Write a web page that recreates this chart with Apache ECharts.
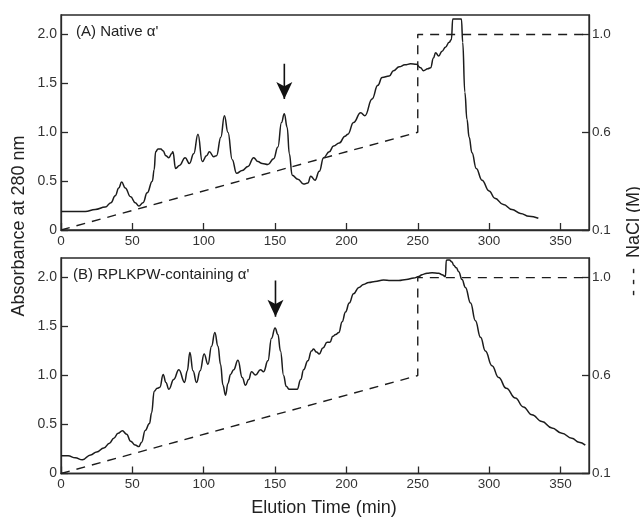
<!DOCTYPE html>
<html>
<head>
<meta charset="utf-8">
<script src="https://cdn.jsdelivr.net/npm/echarts@6/dist/echarts.min.js"></script>
<style>
html,body{margin:0;padding:0;background:#fff;}
#chart{width:640px;height:519px;}
</style>
</head>
<body>
<div id="chart"></div>
<script>
// ---------- DATA ----------
const xTicks = [0, 50, 100, 150, 200, 250, 300, 350];
const absTicks = [0, 0.5, 1.0, 1.5, 2.0];
const naclTickLabels = ['0.1', '0.6', '1.0'];   // right-axis labels at axis levels 0, 1, 2

// Panel A: Native alpha' (elution time min, absorbance 280 nm)
const curveA = [
  [0,0.19],[8,0.19],[17,0.19],[24,0.21],[31,0.235],[35,0.28],[38,0.35],[40.5,0.43],[42.5,0.49],
  [45,0.43],[48.8,0.34],[52,0.28],[54.6,0.245],[57.5,0.28],[60.4,0.38],[64,0.50],[65.3,0.62],
  [66.3,0.80],[68,0.83],[70,0.83],[71.5,0.81],[73.5,0.76],[75.6,0.74],[77.5,0.78],[78.4,0.80],
  [80.3,0.63],[83,0.66],[87,0.74],[90,0.68],[93,0.78],[96,0.98],[99,0.70],[102,0.76],[104,0.80],
  [107,0.75],[109,0.76],[112,0.95],[114.5,1.17],[117,1.00],[120,0.72],[123,0.58],[127,0.61],
  [131,0.65],[135,0.74],[138,0.70],[141,0.68],[145,0.67],[149,0.73],[152,0.85],[154.5,1.10],
  [156.5,1.19],[158.5,1.05],[160,0.78],[162,0.56],[166,0.52],[170,0.47],[173,0.48],[175,0.55],
  [178,0.51],[181,0.60],[184,0.74],[188,0.80],[191,0.86],[195,0.89],[199,0.96],[201,0.98],
  [205,1.10],[210,1.20],[213,1.17],[218,1.34],[222,1.48],[225,1.56],[230,1.575],[233,1.63],
  [237,1.67],[241,1.69],[245,1.70],[249,1.695],[252,1.66],[254,1.63],[257,1.65],[259,1.66],
  [261,1.76],[262.5,1.815],[264.7,1.78],[267,1.83],[269.4,1.87],[272,1.92],[273.6,1.95],
  [274.5,2.16],[280.6,2.16],[281.5,1.92],[283,1.41],[284.5,1.13],[286,0.95],[288,0.79],
  [291,0.63],[295,0.51],[300,0.40],[304,0.325],[310,0.26],[316,0.21],[322,0.17],[328,0.14],[334.5,0.12]
];

// Panel B: RPLKPW-containing alpha'
const curveB = [
  [0,0.18],[5,0.18],[10,0.16],[15,0.14],[20.8,0.19],[25,0.22],[30,0.26],[34,0.31],[37,0.36],
  [40,0.41],[43,0.437],[46,0.40],[48.8,0.33],[52,0.29],[54.6,0.275],[56.5,0.32],[59,0.44],
  [62,0.51],[63.5,0.62],[65.3,0.84],[67.4,0.87],[69.3,0.88],[71.6,1.01],[73.5,0.93],[75.6,0.86],
  [79,0.96],[82.6,1.06],[86.6,0.93],[88.5,1.05],[90.3,1.235],[92.5,1.05],[95,0.93],[97.5,1.05],
  [100.3,1.22],[103,1.115],[105.5,1.30],[107.8,1.44],[110,1.30],[111.8,1.115],[113.5,0.90],
  [115.3,0.80],[117,0.92],[118.8,1.01],[121,1.06],[124,1.156],[127,0.98],[129.3,0.90],
  [131.5,0.96],[133.5,1.04],[136.3,1.005],[139.8,1.06],[142,1.04],[145,1.15],[147.5,1.38],
  [150,1.485],[152,1.42],[153.8,1.25],[156,1.00],[157.8,0.89],[160,0.86],[165.5,0.86],
  [168,0.96],[170,1.06],[173,1.15],[175.5,1.25],[177,1.27],[179,1.24],[181,1.22],[183.5,1.28],
  [186.5,1.34],[188.5,1.34],[190.5,1.40],[192.5,1.42],[194.7,1.44],[197,1.55],[199.4,1.65],
  [202,1.74],[205,1.835],[208.7,1.90],[212,1.93],[215.7,1.95],[220,1.96],[226,1.975],
  [231,1.97],[236.7,1.97],[242,1.98],[247.2,1.995],[250.7,2.01],[253,2.03],[256.5,2.045],
  [260,2.05],[264.7,2.045],[267,2.03],[269.4,2.01],[270,2.177],[272.2,2.18],[274,2.16],
  [275.2,2.125],[277,2.10],[278.7,2.06],[281,1.98],[283.4,1.90],[287,1.74],[290.4,1.56],
  [294,1.39],[297.4,1.25],[302,1.10],[306.7,0.98],[312,0.87],[318.4,0.77],[324,0.68],
  [330,0.60],[337,0.53],[344,0.465],[351,0.41],[358,0.36],[363,0.32],[367.4,0.29]
];

// NaCl gradient (in right-axis levels: 0 -> 0.1 M, 1 -> 0.6 M, 2 -> 1.0 M)
const naclTime  = [0, 250, 250, 370];
const naclLevel = [0, 1, 2, 2];

// Arrows marking the peak of interest: [time, from, to]
const arrowA = [156.5, 1.70, 1.34];
const arrowB = [150.3, 1.97, 1.60];

// ---------- CHART ----------
const FONT = "'Liberation Sans', Arial, Helvetica, sans-serif";
const INK = '#2a2a2a';
const chart = echarts.init(document.getElementById('chart'));

const grids = [
  {left: 61, right: 51, top: 15, height: 215},
  {left: 61, right: 51, top: 258, height: 215.5}
];

function xAxisFor(i) {
  return {
    type: 'value', gridIndex: i, min: 0, max: 370, interval: 50,
    axisLine: {show: true, lineStyle: {color: INK, width: 1.3}},
    axisTick: {show: true, inside: true, length: 7, lineStyle: {color: INK, width: 1.3}},
    axisLabel: {color: '#333', fontSize: 13.5, fontFamily: FONT, margin: 4, showMaxLabel: false,
      formatter: v => xTicks.includes(v) ? String(v) : ''},
    splitLine: {show: false}
  };
}
function yLeftFor(i) {
  return {
    type: 'value', gridIndex: i, min: 0, max: 2.2, interval: 0.5, position: 'left',
    axisLine: {show: true, lineStyle: {color: INK, width: 1.3}},
    axisTick: {show: true, inside: true, length: 7, lineStyle: {color: INK, width: 1.3}},
    axisLabel: {color: '#333', fontSize: 14, fontFamily: FONT, margin: 4, showMaxLabel: false,
      formatter: v => absTicks.includes(v) ? (v === 0 ? '0' : v.toFixed(1)) : ''},
    splitLine: {show: false}
  };
}
function yRightFor(i) {
  return {
    type: 'value', gridIndex: i, min: 0, max: 2.2, interval: 1, position: 'right',
    axisLine: {show: true, lineStyle: {color: INK, width: 1.3}},
    axisTick: {show: true, inside: true, length: 7, lineStyle: {color: INK, width: 1.3}},
    axisLabel: {color: '#333', fontSize: 13.5, fontFamily: FONT, margin: 3, showMaxLabel: false,
      formatter: v => (Number.isInteger(v) && naclTickLabels[v] !== undefined) ? naclTickLabels[v] : ''},
    splitLine: {show: false}
  };
}

const naclData = naclTime.map((t, k) => [t, naclLevel[k]]);

function curveSeries(data, gi) {
  return {
    type: 'line', xAxisIndex: gi, yAxisIndex: gi * 2, data: data,
    showSymbol: false, smooth: 0.45, smoothMonotone: 'x',
    lineStyle: {color: '#1c1c1c', width: 1.5},
    silent: true, z: 3
  };
}
function arrowSeries(arrow, gi) {
  return {
    type: 'line', xAxisIndex: gi, yAxisIndex: gi * 2,
    data: [[arrow[0], arrow[1]], [arrow[0], arrow[2]]],
    showSymbol: false, symbol: 'none', silent: true, z: 4,
    lineStyle: {color: '#111', width: 1.6},
    markPoint: {
      silent: true,
      symbol: 'arrow', symbolSize: [12, 17], symbolRotate: 180, symbolOffset: [0, 0],
      itemStyle: {color: '#111'},
      label: {show: false},
      data: [{coord: [arrow[0], arrow[2]]}]
    }
  };
}
function naclSeries(gi) {
  return {
    type: 'line', xAxisIndex: gi, yAxisIndex: gi * 2 + 1, data: naclData,
    showSymbol: false, silent: true, z: 2,
    lineStyle: {color: '#1c1c1c', width: 1.4, type: [9, 7]}
  };
}

const option = {
  backgroundColor: '#fff',
  animation: false,
  grid: grids.map(g => Object.assign({show: true, borderColor: INK, borderWidth: 1.3}, g)),
  xAxis: [xAxisFor(0), xAxisFor(1)],
  yAxis: [yLeftFor(0), yRightFor(0), yLeftFor(1), yRightFor(1)],
  series: [
    curveSeries(curveA, 0), naclSeries(0), arrowSeries(arrowA, 0),
    curveSeries(curveB, 1), naclSeries(1), arrowSeries(arrowB, 1)
  ],
  graphic: [
    {type: 'text', left: 76, top: 24, style: {text: "(A) Native α'", fontSize: 15, fontFamily: FONT, fill: '#222'}},
    {type: 'text', left: 73, top: 267, style: {text: "(B) RPLKPW-containing α'", fontSize: 15, fontFamily: FONT, fill: '#222'}},
    {type: 'text', x: 324, y: 508, style: {text: 'Elution Time (min)', fontSize: 18, fontFamily: FONT, fill: '#222', textAlign: 'center', textVerticalAlign: 'middle'}},
    {type: 'text', x: 19, y: 226, rotation: Math.PI / 2, style: {text: 'Absorbance at 280 nm', fontSize: 18, fontFamily: FONT, fill: '#222', textAlign: 'center', textVerticalAlign: 'middle'}},
    {type: 'text', x: 634, y: 241, rotation: Math.PI / 2, style: {text: '- - -  NaCl (M)', fontSize: 18, fontFamily: FONT, fill: '#222', textAlign: 'center', textVerticalAlign: 'middle'}}
  ]
};
chart.setOption(option);
</script>
</body>
</html>
